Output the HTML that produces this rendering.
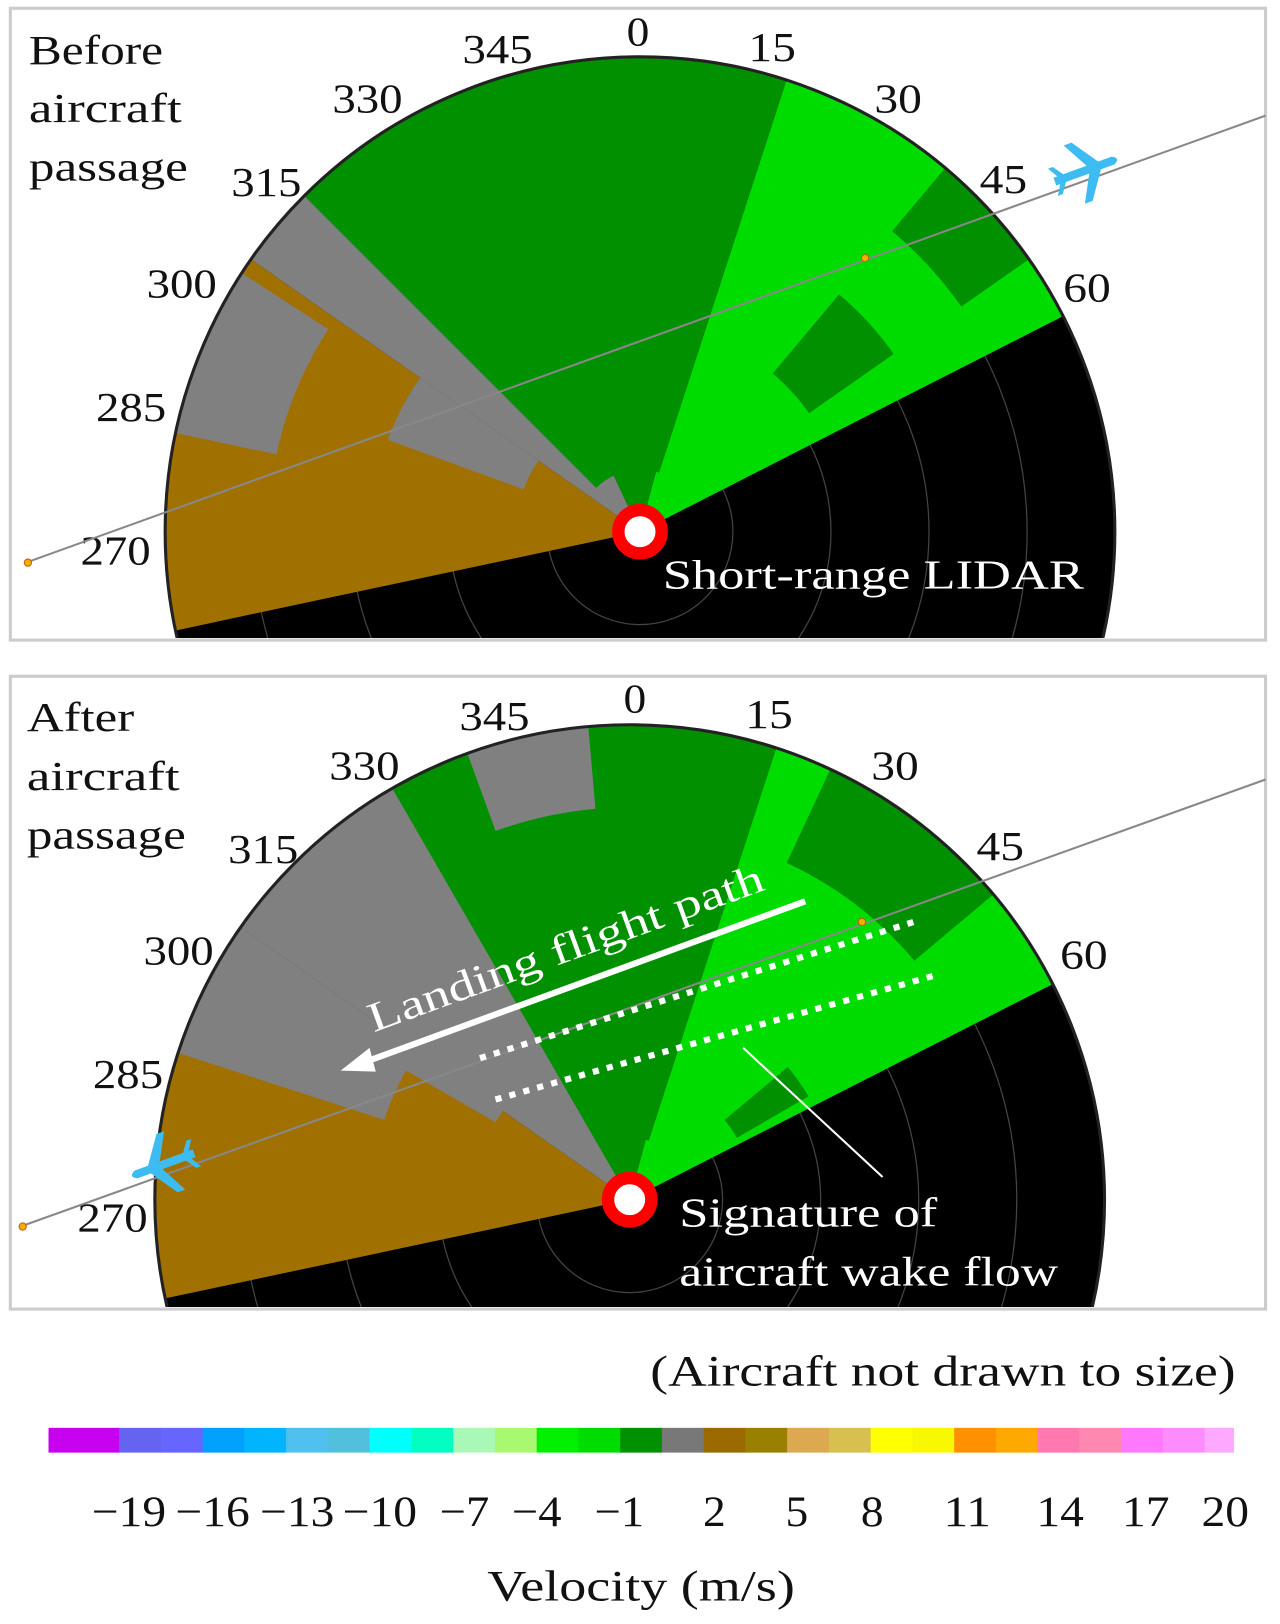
<!DOCTYPE html>
<html><head><meta charset="utf-8"><style>
html,body{margin:0;padding:0;background:#fff;}
svg{display:block}
text{font-family:"Liberation Serif",serif;}
</style></head><body>
<svg id="s" width="1280" height="1624" viewBox="0 0 1240 1573" preserveAspectRatio="none" xmlns="http://www.w3.org/2000/svg">
<defs>
<clipPath id="c1"><rect x="12" y="10" width="1212" height="608"/></clipPath>
<clipPath id="c2"><rect x="12" y="657" width="1212" height="609"/></clipPath>
</defs>
<rect x="10" y="8" width="1216" height="612" fill="#fff" stroke="#ccc" stroke-width="3"/>
<rect x="10" y="655" width="1216" height="613" fill="#fff" stroke="#ccc" stroke-width="3"/>
<g id="p1" clip-path="url(#c1)"></g>
<g id="p2" clip-path="url(#c2)"></g>
<g font-size="40" fill="#111" lengthAdjust="spacingAndGlyphs">
<text x="28" y="62" textLength="130" lengthAdjust="spacingAndGlyphs">Before</text><text x="28" y="118" textLength="148" lengthAdjust="spacingAndGlyphs">aircraft</text><text x="28" y="175" textLength="154" lengthAdjust="spacingAndGlyphs">passage</text>
<text x="26" y="708" textLength="104" lengthAdjust="spacingAndGlyphs">After</text><text x="26" y="765" textLength="148" lengthAdjust="spacingAndGlyphs">aircraft</text><text x="26" y="822" textLength="154" lengthAdjust="spacingAndGlyphs">passage</text>
</g>
<g id="lab" font-size="40" fill="#111" text-anchor="middle"></g>
<g font-size="40" fill="#fff">
<text x="642" y="570" textLength="408" lengthAdjust="spacingAndGlyphs">Short-range LIDAR</text>
<text x="658" y="1188" textLength="250" lengthAdjust="spacingAndGlyphs">Signature of</text>
<text x="658" y="1245" textLength="367" lengthAdjust="spacingAndGlyphs">aircraft wake flow</text>
<text x="362" y="1000" transform="rotate(-20 362 1000)" textLength="405" lengthAdjust="spacingAndGlyphs">Landing flight path</text>
</g>
<g id="cb"></g>
<g id="tk" font-size="42" fill="#111" text-anchor="middle">
<text x="1197" y="1342" text-anchor="end" textLength="567" lengthAdjust="spacingAndGlyphs">(Aircraft not drawn to size)</text>
<text x="472" y="1550" text-anchor="start" textLength="298" lengthAdjust="spacingAndGlyphs">Velocity (m/s)</text>
</g>
</svg>
<script>
var NS="http://www.w3.org/2000/svg";
function el(p,t,a){var e=document.createElementNS(NS,t);for(var k in a)e.setAttribute(k,a[k]);p.appendChild(e);return e;}
function pt(cx,cy,r,a){a=a*Math.PI/180;return [cx+r*Math.sin(a),cy-r*Math.cos(a)];}
function wedge(g,cx,cy,r0,r1,a0,a1,col){
 var p1=pt(cx,cy,r1,a0),p2=pt(cx,cy,r1,a1),big=((a1-a0+360)%360)>180?1:0;
 var d;
 if(r0<=0){d="M"+cx+","+cy+"L"+p1+"A"+r1+","+r1+" 0 "+big+" 1 "+p2+"Z";}
 else{var q1=pt(cx,cy,r0,a1),q2=pt(cx,cy,r0,a0);d="M"+p1+"A"+r1+","+r1+" 0 "+big+" 1 "+p2+"L"+q1+"A"+r0+","+r0+" 0 "+big+" 0 "+q2+"Z";}
 el(g,"path",{d:d,fill:col});
}
var O="#a07000",G="#808080",DG="#009000",LG="#00dc00";
function panel(g,cx,cy,top){
 var R=460;
 el(g,"circle",{cx:cx,cy:cy,r:R,fill:"#000"});
 for(var r=90;r<R;r+=95) el(g,"circle",{cx:cx,cy:cy,r:r,fill:"none",stroke:"#444","stroke-width":1.2});
 wedge(g,cx,cy,0,R,258,305,O);
 wedge(g,cx,cy,0,R,305,335,G);
 wedge(g,cx,cy,0,R,335,375,DG);
 wedge(g,cx,cy,0,R,15,63,LG);
 if(top){
  wedge(g,cx,cy,60,R,315,336,DG);
  wedge(g,cx,cy,360,R,282,303,G);
  wedge(g,cx,cy,120,260,290,305,G);
  wedge(g,cx,cy,420,R,258,268,O);
  wedge(g,cx,cy,200,300,40,55,DG);
  wedge(g,cx,cy,380,R,40,55,DG);
  wedge(g,cx,cy,60,R,10,18,DG);
 }else{
  wedge(g,cx,cy,250,R,288,305,G);
  wedge(g,cx,cy,150,300,300,320,G);
  wedge(g,cx,cy,380,R,340,355,G);
  wedge(g,cx,cy,360,R,25,50,DG);
  wedge(g,cx,cy,120,200,50,60,DG);
  wedge(g,cx,cy,60,R,8,18,DG);
  wedge(g,cx,cy,0,R,330,340,DG);
 }
 el(g,"circle",{cx:cx,cy:cy,r:R,fill:"none",stroke:"#222","stroke-width":3});
}
var p1=document.getElementById("p1"),p2=document.getElementById("p2");
panel(p1,620,515,true);panel(p2,610,1162,false);
var s=document.getElementById("s");
function plane(x,y,rot){var g=el(s,"g",{transform:"translate("+x+","+y+") rotate("+rot+")",fill:"#3cbcf0"});
 el(g,"path",{d:"M-32,-4 L28,-4 Q36,0 28,4 L-32,4 Z M2,-4 L-12,-30 L-4,-30 L14,-4 Z M2,4 L-12,30 L-4,30 L14,4 Z M-28,-4 L-34,-14 L-29,-14 L-22,-4 Z M-28,4 L-34,14 L-29,14 L-22,4Z"});}
el(s,"line",{x1:25,y1:545,x2:1226,y2:112,stroke:"#888","stroke-width":2});
el(s,"line",{x1:20,y1:1188,x2:1226,y2:755,stroke:"#888","stroke-width":2});
[[27,545],[838,250],[22,1188],[835,893]].forEach(function(c){el(s,"circle",{cx:c[0],cy:c[1],r:3.5,fill:"#f0b000",stroke:"#c06000"});});
plane(1052,165,-20);plane(158,1128,160);
el(s,"line",{x1:780,y1:873,x2:350,y2:1030,stroke:"#fff","stroke-width":6});
el(s,"path",{d:"M330,1037 L358,1015 L364,1038 Z",fill:"#fff"});
el(s,"line",{x1:465,y1:1025,x2:885,y2:893,stroke:"#fff","stroke-width":6,"stroke-dasharray":"6 8"});
el(s,"line",{x1:480,y1:1065,x2:905,y2:945,stroke:"#fff","stroke-width":6,"stroke-dasharray":"6 8"});
el(s,"line",{x1:855,y1:1140,x2:720,y2:1015,stroke:"#fff","stroke-width":2});
[[620,515],[610,1162]].forEach(function(c){el(s,"circle",{cx:c[0],cy:c[1],r:21,fill:"#fff",stroke:"#f00","stroke-width":12});});
var lab=document.getElementById("lab");
var L=[["0",618,44],["15",748,59],["30",870,109],["45",972,187],["60",1053,292],["345",482,61],["330",356,109],["315",258,190],["300",176,288],["285",127,408],["270",112,547]];
function tl(s){return s.length==1?22:s.length==2?46:68;}
L.forEach(function(l){var t=el(lab,"text",{x:l[1],y:l[2],textLength:tl(l[0]),lengthAdjust:"spacingAndGlyphs"});t.textContent=l[0];
 var t2=el(lab,"text",{x:l[1]-3,y:l[2]+646,textLength:tl(l[0]),lengthAdjust:"spacingAndGlyphs"});t2.textContent=l[0];});
var tk=document.getElementById("tk");
[["−19",125],["−16",206],["−13",288],["−10",368],["−7",450],["−4",520],["−1",600],["2",692],["5",772],["8",845],["11",937],["14",1027],["17",1110],["20",1187]].forEach(function(l){
 var w=l[0].length==1?22:(l[0].length==2&&l[0][0]!="−")?46:(l[0].length==2?48:72);
 var t=el(tk,"text",{x:l[1],y:1478,textLength:w,lengthAdjust:"spacingAndGlyphs"});t.textContent=l[0];});
var cols=["#c800f0","#c800f0","#6464f0","#6666ff","#00a0ff","#00b4ff","#50c0f0","#50c0dc","#00ffff","#00ffc0","#a8f8b8","#a8f870","#00f000","#00dc00","#009000","#787878","#9a6a00","#9a8000","#dca850","#d8c050","#ffff00","#f8f800","#ff9000","#ffa800","#ff78b0","#ff88b0","#ff78ff","#ff8cff","#ffa8ff"];
var cb=document.getElementById("cb");var x=47,w=(1195-47-56)/27;
cols.forEach(function(c,i){var ww=(i==0||i==28)?28:w;el(cb,"rect",{x:x,y:1383,width:ww+0.5,height:24,fill:c});x+=ww;});
</script>
</body></html>
